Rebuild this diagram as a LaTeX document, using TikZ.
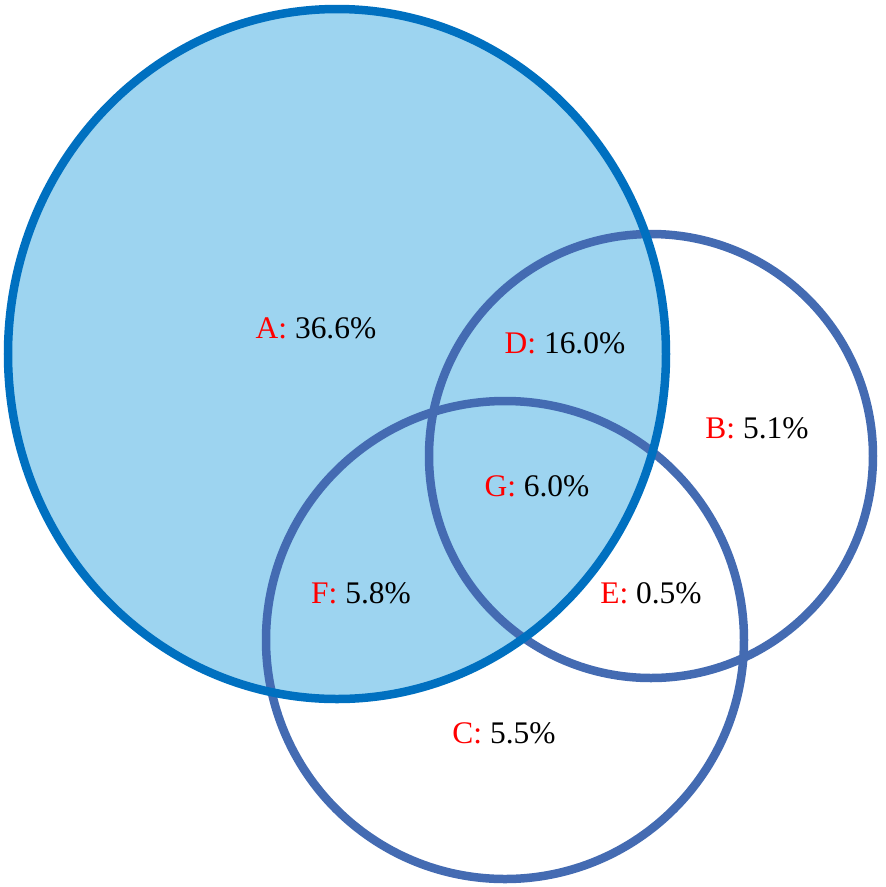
\documentclass[tikz,border=0pt]{standalone}
\usepackage{fontspec}
\setmainfont{Liberation Serif}
\definecolor{setafill}{RGB}{157,212,240}
\definecolor{setaline}{RGB}{0,112,192}
\definecolor{setline}{RGB}{68,107,178}
\begin{document}
\begin{tikzpicture}[x=0.02cm, y=-0.02cm,
    ring/.style={draw=setline, line width=8.5*0.02cm},
    share/.style={font=\fontsize{17.9}{20}\selectfont, inner sep=0pt}]
    \useasboundingbox (0,0) rectangle (886,887);
    % set A, filled
    \fill[setafill] (337,354) ellipse [x radius=329, y radius=345];
    % sets B and C
    \draw[ring] (651,456) circle [radius=222];
    \draw[ring] (505,640) circle [radius=239];
    \draw[draw=setaline, line width=8.5*0.02cm] (337,354) ellipse [x radius=329, y radius=345];
    % region labels
    \node[share] (A) at (316,328) {\textcolor{red}{A:} 36.6\%};
    \node[share] (D) at (565,343) {\textcolor{red}{D:} 16.0\%};
    \node[share] (B) at (757,428) {\textcolor{red}{B:} 5.1\%};
    \node[share] (G) at (537,486) {\textcolor{red}{G:} 6.0\%};
    \node[share] (F) at (361,593) {\textcolor{red}{F:} 5.8\%};
    \node[share] (E) at (651,593) {\textcolor{red}{E:} 0.5\%};
    \node[share] (C) at (504,733) {\textcolor{red}{C:} 5.5\%};
\end{tikzpicture}
\end{document}
